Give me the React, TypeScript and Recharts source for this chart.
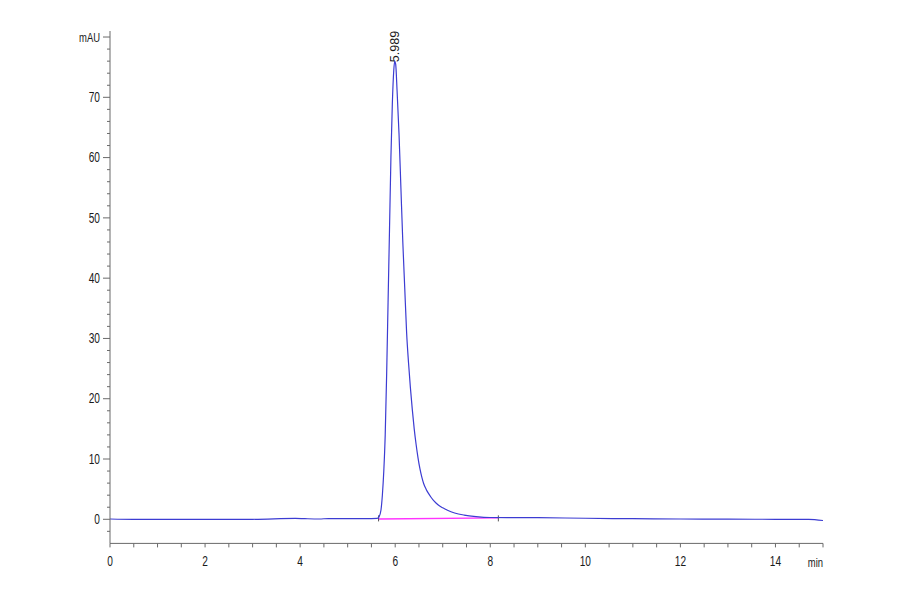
import React from 'react';
import { LineChart, Line, XAxis, YAxis, ReferenceLine, ReferenceDot } from 'recharts';

// Retention time (min)
const timeMin = [
  0, 0.5, 1, 2, 3, 3.9, 4.1, 4.4, 4.6, 5, 5.5, 5.62, 5.66, 5.7, 5.73, 5.76, 5.79, 5.82, 5.85, 5.88,
  5.91, 5.94, 5.97, 5.99, 6.01, 6.04, 6.08, 6.12, 6.16, 6.2, 6.24, 6.28, 6.32, 6.36, 6.4, 6.44, 6.48,
  6.52, 6.56, 6.6, 6.65, 6.7, 6.75, 6.82, 6.9, 7.0, 7.1, 7.25, 7.45, 7.7, 8.0, 8.5, 9, 10, 11, 12,
  13, 14, 14.7, 15,
];
// Detector signal (mAU)
const signalMAU = [
  0.05, 0.0, 0.0, 0.0, 0.0, 0.15, 0.1, 0.05, 0.12, 0.1, 0.12, 0.15, 0.4, 1.5, 4, 8, 14, 24, 36, 48,
  60, 69, 74.5, 76, 75.5, 71, 64, 55, 46, 38.5, 31, 26, 21.8, 18.2, 15, 12.4, 10.2,
  8.4, 7, 5.9, 5.0, 4.3, 3.7, 3.0, 2.4, 1.9, 1.5, 1.05, 0.7, 0.45, 0.3, 0.28, 0.27, 0.17, 0.1, 0.05,
  0.02, 0.0, 0.0, -0.2,
];

const xTicks = [
  0, 0.5, 1, 1.5, 2, 2.5, 3, 3.5, 4, 4.5, 5, 5.5, 6, 6.5, 7, 7.5, 8, 8.5, 9, 9.5, 10, 10.5, 11, 11.5,
  12, 12.5, 13, 13.5, 14, 14.5, 15,
];
const xLabelValues = [0, 2, 4, 6, 8, 10, 12, 14];
const xUnitLabel = 'min';

const yTicks = [
  -2, 0, 2, 4, 6, 8, 10, 12, 14, 16, 18, 20, 22, 24, 26, 28, 30, 32, 34, 36, 38, 40, 42, 44, 46, 48,
  50, 52, 54, 56, 58, 60, 62, 64, 66, 68, 70, 72, 74, 76, 78, 80,
];
const yLabelValues = [0, 10, 20, 30, 40, 50, 60, 70];
const yUnitLabel = 'mAU';

const peakTime = [5.989];
const peakHeight = [76];
const peakLabel = ['5.989'];

const baselineTimes = [5.65, 8.17];
const baselineLevels = [0.05, 0.25];

const data = timeMin.map((t, i) => ({ t, v: signalMAU[i] }));

const FONT = '"Liberation Sans", Arial, sans-serif';
const AXIS = '#6a6a6a';
const TEXT = '#1a1a1a';
const NARROW = 0.7;

const NarrowText = ({ x, y, anchor, size, children }: any) => (
  <text
    transform={`translate(${x} ${y}) scale(${NARROW} 1)`}
    x={0}
    y={0}
    textAnchor={anchor}
    dominantBaseline="central"
    fontSize={size}
    fontFamily={FONT}
    fill={TEXT}
  >
    {children}
  </text>
);

const XTick = (props: any) => {
  const { x, y, payload } = props;
  const v = payload.value as number;
  const isLabel = xLabelValues.includes(v);
  const isUnit = v === 15;
  return (
    <g>
      <line x1={x} x2={x} y1={y} y2={y + 4} stroke={AXIS} strokeWidth={1} />
      {isLabel && (
        <NarrowText x={x} y={y + 18} anchor="middle" size={14.5}>
          {v}
        </NarrowText>
      )}
      {isUnit && (
        <NarrowText x={x} y={y + 18} anchor="end" size={13.5}>
          {xUnitLabel}
        </NarrowText>
      )}
    </g>
  );
};

const YTick = (props: any) => {
  const { x, y, payload } = props;
  const v = payload.value as number;
  const isLabel = yLabelValues.includes(v);
  const isUnit = v === 80;
  const major = isLabel || isUnit;
  return (
    <g>
      <line x1={x - (major ? 7 : 3)} x2={x} y1={y} y2={y} stroke={AXIS} strokeWidth={1} />
      {isLabel && (
        <NarrowText x={x - 10} y={y} anchor="end" size={14.5}>
          {v}
        </NarrowText>
      )}
      {isUnit && (
        <NarrowText x={x - 10} y={y} anchor="end" size={13.5}>
          {yUnitLabel}
        </NarrowText>
      )}
    </g>
  );
};

const PeakLabel = (props: any) => {
  const { cx, cy } = props;
  return (
    <text
      x={cx}
      y={cy + 1}
      transform={`rotate(-90 ${cx} ${cy + 1})`}
      textAnchor="start"
      dominantBaseline="central"
      fontSize={12.5}
      fontFamily={FONT}
      fill={TEXT}
    >
      {peakLabel[0]}
    </text>
  );
};

export default function App() {
  return (
    <div style={{ position: 'absolute', left: 0, top: 0, width: 900, height: 594, background: '#fff' }}>
      <LineChart
        width={900}
        height={594}
        data={data}
        margin={{ top: 31, right: 77, bottom: 20.6, left: 50 }}
      >
        <XAxis
          dataKey="t"
          type="number"
          domain={[0, 15]}
          ticks={xTicks}
          interval={0}
          tickSize={0}
          tickMargin={0}
          tick={<XTick />}
          axisLine={{ stroke: AXIS, strokeWidth: 1 }}
          tickLine={false}
          height={30}
          allowDataOverflow
        />
        <YAxis
          type="number"
          domain={[-4, 81]}
          ticks={yTicks}
          interval={0}
          tickSize={0}
          tickMargin={0}
          tick={<YTick />}
          axisLine={{ stroke: AXIS, strokeWidth: 1 }}
          tickLine={false}
          width={60}
          allowDataOverflow
        />
        <ReferenceLine
          segment={[
            { x: baselineTimes[0], y: baselineLevels[0] },
            { x: baselineTimes[1], y: baselineLevels[1] },
          ]}
          stroke="#ff33ff"
          strokeWidth={1.3}
          ifOverflow="visible"
        />
        <ReferenceLine
          segment={[
            { x: baselineTimes[0], y: baselineLevels[0] - 0.4 },
            { x: baselineTimes[0], y: baselineLevels[0] + 0.6 },
          ]}
          stroke="#555"
          strokeWidth={1}
        />
        <ReferenceLine
          segment={[
            { x: baselineTimes[1], y: baselineLevels[1] - 0.6 },
            { x: baselineTimes[1], y: baselineLevels[1] + 0.4 },
          ]}
          stroke="#555"
          strokeWidth={1}
        />
        <Line
          type="monotone"
          dataKey="v"
          stroke="#3c3cd2"
          strokeWidth={1.2}
          dot={false}
          isAnimationActive={false}
        />
        <ReferenceDot x={peakTime[0]} y={peakHeight[0]} r={0} shape={<PeakLabel />} ifOverflow="visible" />
      </LineChart>
    </div>
  );
}
